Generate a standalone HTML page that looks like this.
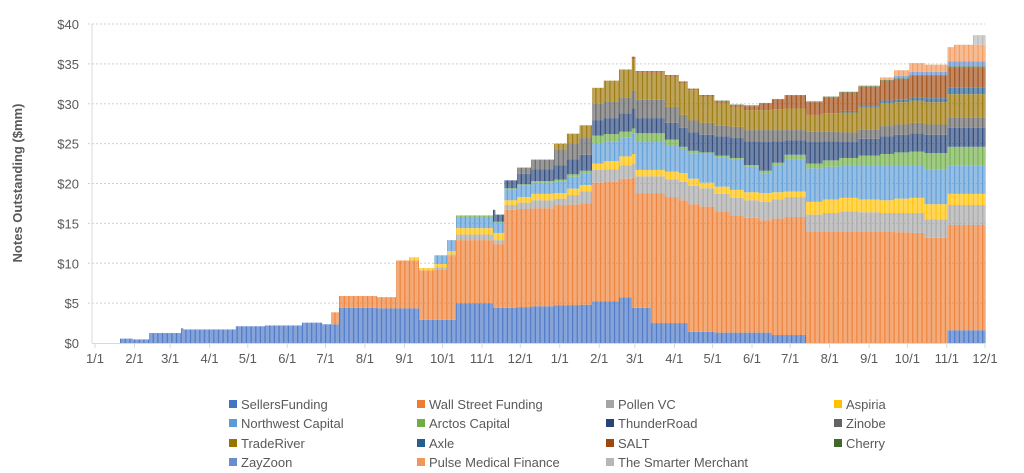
<!DOCTYPE html>
<html><head><meta charset="utf-8"><style>
body{margin:0;background:#fff;}
svg{display:block;font-family:"Liberation Sans",sans-serif;}
</style></head><body>
<svg id="chart" width="1024" height="473" viewBox="0 0 1024 473">
<g id="grid"></g>
<g id="bars"></g>
<g id="axes"></g>
<text x="0" y="0" transform="translate(22,183) rotate(-90)" text-anchor="middle" font-size="13" font-weight="bold" fill="#595959">Notes Outstanding ($mm)</text>
<g id="legend"></g>
</svg>
<script>
const seriesNames = ["SellersFunding","Wall Street Funding","Pollen VC","Aspiria","Northwest Capital","Arctos Capital","ThunderRoad","Zinobe","TradeRiver","Axle","SALT","Cherry","ZayZoon","Pulse Medical Finance","The Smarter Merchant"];
const seriesColors = ["#4472C4","#ED7D31","#A5A5A5","#FFC000","#5B9BD5","#70AD47","#264478","#636363","#997300","#255E91","#9E480E","#43682B","#698ED0","#F1975A","#B7B7B7"];
const yTicks = [0,5,10,15,20,25,30,35,40];
const xTickLabels = ["1/1","2/1","3/1","4/1","5/1","6/1","7/1","8/1","9/1","10/1","11/1","12/1","1/1","2/1","3/1","4/1","5/1","6/1","7/1","8/1","9/1","10/1","11/1","12/1"];
const xTickDays = [0,31,59,90,120,151,181,212,243,273,304,334,365,396,424,455,485,516,546,577,608,638,669,699];
const lastDay = 699;
// breakpoint start days (step values held until next breakpoint)
const startDays = [20,30,43,68,70,111,134,163,179,186,192,222,237,247,255,267,277,284,313,315,322,332,343,361,371,381,391,400,412,422,425,437,448,459,466,475,487,499,510,522,532,542,559,572,585,600,617,628,640,652,670,675,690];
const sellersFunding = [.55,.45,1.25,1.85,1.7,2.1,2.2,2.55,2.35,2.35,4.4,4.35,4.35,4.35,2.9,2.9,2.9,5.0,4.4,4.4,4.4,4.5,4.6,4.7,4.75,4.8,5.2,5.2,5.7,4.4,4.4,2.5,2.5,2.5,1.4,1.4,1.3,1.3,1.3,1.3,1.0,1.0,0,0,0,0,0,0,0,0,1.6,1.6,1.6];
const wallStreet = [0,0,0,0,0,0,0,0,0,1.5,1.5,1.4,6.0,6.0,6.2,6.3,8.0,7.9,8.0,8.0,12.3,12.3,12.3,12.6,12.6,12.7,14.9,15.0,14.9,16.3,14.4,16.3,15.8,15.4,16.0,15.7,15.2,14.7,14.4,14.1,14.6,14.8,14.0,14.0,14.0,14.0,14.0,13.9,13.8,13.2,13.2,13.2,13.2];
const pollenVC = [0,0,0,0,0,0,0,0,0,0,0,0,0,0,0,.3,.2,.7,.5,.5,.6,.8,1.0,.8,1.2,1.5,1.6,1.6,1.7,1.8,2.1,2.1,2.2,2.3,2.3,2.3,2.2,2.2,2.2,2.3,2.4,2.5,2.1,2.3,2.5,2.4,2.3,2.4,2.5,2.3,2.5,2.5,2.5];
const aspiria = [0,0,0,0,0,0,0,0,0,0,0,0,0,.4,.3,.4,.4,.8,.9,.9,.6,.7,.8,.7,.8,.8,.8,1.0,1.1,1.2,.8,.8,1.0,1.1,.9,.7,.9,1.0,1.0,1.1,.9,.7,1.6,1.7,1.7,1.6,1.6,1.8,1.9,1.9,1.4,1.4,1.4];
const northwest = [0,0,0,0,0,0,0,0,0,0,0,0,0,0,0,1.1,1.4,1.4,1.3,1.3,1.3,1.4,1.4,1.4,1.5,1.5,2.5,2.5,2.4,2.6,3.5,3.5,3.2,2.9,3.2,3.6,3.7,3.8,3.2,2.5,3.3,4.0,4.2,4.1,4.0,4.2,4.3,4.1,4.0,4.4,3.6,3.6,3.6];
const arctos = [0,0,0,0,0,0,0,0,0,0,0,0,0,0,0,0,0,.2,.1,.1,.2,.2,.2,.3,.3,.3,1.0,.9,.7,.6,1.1,1.1,.8,.4,.3,.2,.2,.2,.2,.3,.4,.6,.6,.8,1.0,1.3,1.5,1.7,1.8,2.0,2.3,2.3,2.3];
const thunderRoad = [0,0,0,0,0,0,0,0,0,0,0,0,0,0,0,0,0,0,1.5,.9,1.0,1.3,1.5,1.8,1.9,2.0,1.9,2.0,2.3,2.5,1.9,1.9,2.1,2.4,2.3,2.2,2.4,2.5,3.0,3.6,2.7,1.8,2.7,2.4,2.0,2.1,2.2,2.2,2.3,2.3,2.4,2.4,2.4];
const zinobe = [0,0,0,0,0,0,0,0,0,0,0,0,0,0,0,0,0,0,0,0,0,.8,1.2,1.9,2.0,2.1,2.1,2.1,2.0,2.2,2.3,2.3,2.0,1.6,1.5,1.5,1.4,1.4,1.4,1.5,1.4,1.3,1.3,1.2,1.2,1.2,1.3,1.3,1.3,1.3,1.3,1.3,1.3];
const tradeRiver = [0,0,0,0,0,0,0,0,0,0,0,0,0,0,0,0,0,0,0,0,0,0,0,.8,1.2,1.6,2.0,2.6,3.5,4.0,3.4,3.4,3.8,4.0,3.8,3.3,2.8,2.5,2.5,2.5,2.6,2.7,2.1,2.3,2.5,2.7,2.9,2.8,2.8,2.8,2.9,2.9,2.9];
const axle = [0,0,0,0,0,0,0,0,0,0,0,0,0,0,0,0,0,0,0,0,0,0,0,0,0,0,0,0,0,0,0,0,0,0,0,0,0,0,0,0,0,0,0,0,.2,.2,.3,.3,.4,.5,.8,.8,.8];
const salt = [0,0,0,0,0,0,0,0,0,0,0,0,0,0,0,0,0,0,0,0,0,0,0,0,0,0,0,0,0,.3,.2,.2,.2,.2,.2,.2,.2,.2,.5,.8,1.2,1.6,1.6,2.0,2.3,2.4,2.5,2.6,2.7,2.8,2.6,2.6,2.6];
const cherry = [0,0,0,0,0,0,0,0,0,0,0,0,0,0,0,0,0,0,0,0,0,0,0,0,0,0,0,0,0,0,0,0,0,0,0,0,.1,.1,.1,.1,.1,.1,.1,.1,.1,.1,.1,.1,.1,.1,.1,.1,.1];
const zayZoon = [0,0,0,0,0,0,0,0,0,0,0,0,0,0,0,0,0,0,0,0,0,0,0,0,0,0,0,0,0,0,0,0,0,0,0,0,0,0,0,0,0,0,0,0,0,0,0,.3,.4,.4,.6,.6,.6];
const pulseMedical = [0,0,0,0,0,0,0,0,0,0,0,0,0,0,0,0,0,0,0,0,0,0,0,0,0,0,0,0,0,0,0,0,0,0,0,0,0,0,0,0,0,0,0,0,0,.1,.3,.7,1.1,.9,1.8,2.1,2.1];
const smarterMerchant = [0,0,0,0,0,0,0,0,0,0,0,0,0,0,0,0,0,0,0,0,0,0,0,0,0,0,0,0,0,0,0,0,0,0,0,0,0,0,0,0,0,0,0,0,0,0,0,0,0,0,0,0,1.2];
const allSeries = [sellersFunding,wallStreet,pollenVC,aspiria,northwest,arctos,thunderRoad,zinobe,tradeRiver,axle,salt,cherry,zayZoon,pulseMedical,smarterMerchant];

const NS="http://www.w3.org/2000/svg";
const X0=95, X1=985, Y0=343, Y1=24, YMAX=40;
const xScale = d => X0 + d*(X1-X0)/lastDay;
const yScale = v => Y0 - v*(Y0-Y1)/YMAX;
function mk(tag, attrs, parent){const e=document.createElementNS(NS,tag);for(const k in attrs)e.setAttribute(k,attrs[k]);parent.appendChild(e);return e;}

const grid=document.getElementById('grid');
const axes=document.getElementById('axes');
yTicks.forEach(t=>{
  if(t>0){
    const gl=mk('line',{x1:88,x2:X1,y1:yScale(t),y2:yScale(t),stroke:'#d0d0d0','stroke-width':1,'stroke-dasharray':'2,2'},grid);
    
    
  }
  const tl=mk('text',{x:79,y:yScale(t)+5,'text-anchor':'end','font-size':13,fill:'#595959'},axes);
  tl.textContent='$'+t;
  
  
});
const yAxis=mk('line',{x1:92,x2:92,y1:Y1,y2:Y0,stroke:'#d9d9d9','stroke-width':1},axes);


const xAxis=mk('line',{x1:92,x2:X1,y1:Y0+0.5,y2:Y0+0.5,stroke:'#d9d9d9','stroke-width':1},axes);


xTickDays.forEach((d,i)=>{
  const x=xScale(d);
  const tk=mk('line',{x1:x,x2:x,y1:Y0,y2:Y0+5,stroke:'#d9d9d9'},axes);
  
  
  const tl=mk('text',{x:x,y:Y0+20,'text-anchor':'middle','font-size':13,fill:'#595959'},axes);
  tl.textContent=xTickLabels[i];
  
  
});

const bars=document.getElementById('bars');
const bw=(X1-X0)/lastDay*0.72;
let bi=0;
for(let d=startDays[0]; d<=lastDay; d++){
  while(bi+1<startDays.length && startDays[bi+1]<=d) bi++;
  let acc=0;
  const x=xScale(d)-bw/2;
  for(let s=0;s<allSeries.length;s++){
    const v=allSeries[s][bi];
    if(!v) continue;
    const r=mk('rect',{x:x.toFixed(2),y:yScale(acc+v).toFixed(2),width:bw.toFixed(2),height:(yScale(acc)-yScale(acc+v)).toFixed(2),fill:seriesColors[s]},bars);
    
    
    acc+=v;
  }
}

const legend=document.getElementById('legend');
const colX=[229,417,606,834], rowY=[404,423,443,462];
seriesNames.forEach((n,i)=>{
  const cx=colX[i%4], cy=rowY[Math.floor(i/4)];
  const g=mk('g',{},legend);
  
  
  mk('rect',{x:cx,y:cy-4,width:8,height:8,fill:seriesColors[i]},g);
  const t=mk('text',{x:cx+12,y:cy+5,'font-size':13,fill:'#595959'},g);
  t.textContent=n;
});
</script>
</body></html>
